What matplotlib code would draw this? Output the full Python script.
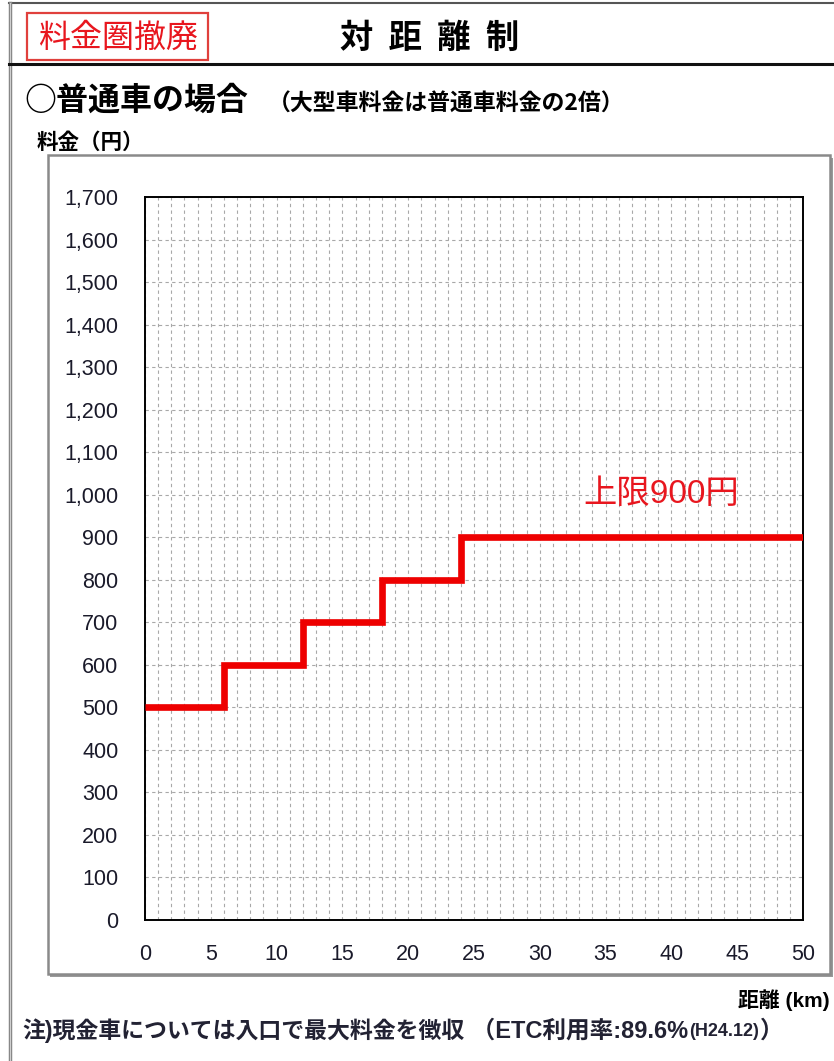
import matplotlib.pyplot as plt
from matplotlib.patches import Rectangle
from matplotlib.lines import Line2D
from matplotlib.ticker import MultipleLocator, FuncFormatter

plt.rcParams['font.family'] = ['Liberation Sans', 'Noto Sans CJK JP', 'DejaVu Sans']
JP = ['Noto Sans CJK JP', 'DejaVu Sans']
MIX = ['Liberation Sans', 'Noto Sans CJK JP', 'DejaVu Sans']

# 距離(km)の区切りと料金(円)
dist_steps = [0, 6, 12, 18, 24, 50]
fare_steps = [500, 600, 700, 800, 900]
cap_fare = 900

W, H = 834, 1061
fig = plt.figure(figsize=(W / 100, H / 100), dpi=100)
fig.patch.set_facecolor('white')


def fx(x):
    return x / W


def fy(y):
    return 1 - y / H


def box(x0, y0, x1, y1, **kw):
    fig.patches.append(Rectangle((fx(x0), fy(y1)), fx(x1) - fx(x0), fy(y0) - fy(y1),
                                 transform=fig.transFigure, zorder=-2, **kw))


def hline(y, x0, x1, **kw):
    fig.lines.append(Line2D([fx(x0), fx(x1)], [fy(y), fy(y)], transform=fig.transFigure, **kw))


def vline(x, y0, y1, **kw):
    fig.lines.append(Line2D([fx(x), fx(x)], [fy(y0), fy(y1)], transform=fig.transFigure, **kw))


# 外枠とヘッダー
hline(3, 9, 834, color='#555555', lw=1.5)
vline(10, 3, 1061, color='#888888', lw=2.5)
vline(10, 3, 1061, color='#dddddd', lw=0.6)
hline(64, 9, 834, color='#111111', lw=2.2)

box(27, 13, 208, 60, facecolor='white', edgecolor='#e0403c', lw=1.6)
fig.text(fx(118), fy(38), '料金圏撤廃', color='#e8161e', fontsize=23,
         ha='center', va='center', family=JP)
fig.text(fx(430), fy(38), '対  距  離  制', color='black', fontsize=24, fontweight='bold',
         ha='center', va='center', family=JP)

fig.text(fx(24), fy(101), '○普通車の場合', fontsize=23, fontweight='bold',
         ha='left', va='center', family=JP)
fig.text(fx(268), fy(104), '（大型車料金は普通車料金の2倍）', fontsize=16.5, fontweight='bold',
         ha='left', va='center', family=JP)
fig.text(fx(37), fy(142), '料金（円）', fontsize=15.5, fontweight='bold',
         ha='left', va='center', family=JP)

# グラフ外枠(影付き)
box(50, 158, 833, 977, facecolor='#9a9a9a', edgecolor='none')
box(48, 155, 830, 974, facecolor='white', edgecolor='#8a8a8a', lw=1.8)

# 料金グラフ
ax = fig.add_axes([fx(145), fy(920), fx(803) - fx(145), fy(197) - fy(920)])
ax.set_zorder(3)
ax.set_xlim(0, 50)
ax.set_ylim(0, 1700)
ax.xaxis.set_major_locator(MultipleLocator(5))
ax.xaxis.set_minor_locator(MultipleLocator(1))
ax.yaxis.set_major_locator(MultipleLocator(100))
ax.yaxis.set_major_formatter(FuncFormatter(lambda v, p: f'{int(v):,}'))
ax.grid(which='both', axis='x', color='#a8a8a8', lw=0.8, linestyle=(0, (3, 3)))
ax.grid(which='major', axis='y', color='#a8a8a8', lw=0.8, linestyle=(0, (3, 3)))
ax.tick_params(which='both', length=0)
ax.tick_params(axis='y', pad=19, labelsize=15.5, labelcolor='#1a1a2a')
ax.tick_params(axis='x', pad=17, labelsize=15.5, labelcolor='#1a1a2a')
for s in ax.spines.values():
    s.set_linewidth(1.4)
    s.set_color('black')

ax.stairs(fare_steps, dist_steps, baseline=None, color='#ee0000', lw=4.8, zorder=4)
ax.text(39.2, 1000, f'上限{cap_fare}円', color='#e8161e', fontsize=24,
        ha='center', va='center', family=MIX)

fig.text(fx(738), fy(1000), '距離 (km)', fontsize=15, fontweight='bold',
         ha='left', va='center', family=MIX)

# 注記(文字を順に並べる)
renderer = fig.canvas.get_renderer()
note_parts = [('注)現金車については入口で最大料金を徴収', 16.5),
              (' （ETC利用率:89.6%', 17), ('(H24.12)', 13), ('）', 17)]
xpos = fx(22)
for txt, size in note_parts:
    t = fig.text(xpos, fy(1031), txt, fontsize=size, fontweight='bold', color='#222233',
                 ha='left', va='center', family=MIX)
    bb = t.get_window_extent(renderer)
    xpos = bb.x1 / W + 1 / W

fig.savefig('out.png', dpi=100)
